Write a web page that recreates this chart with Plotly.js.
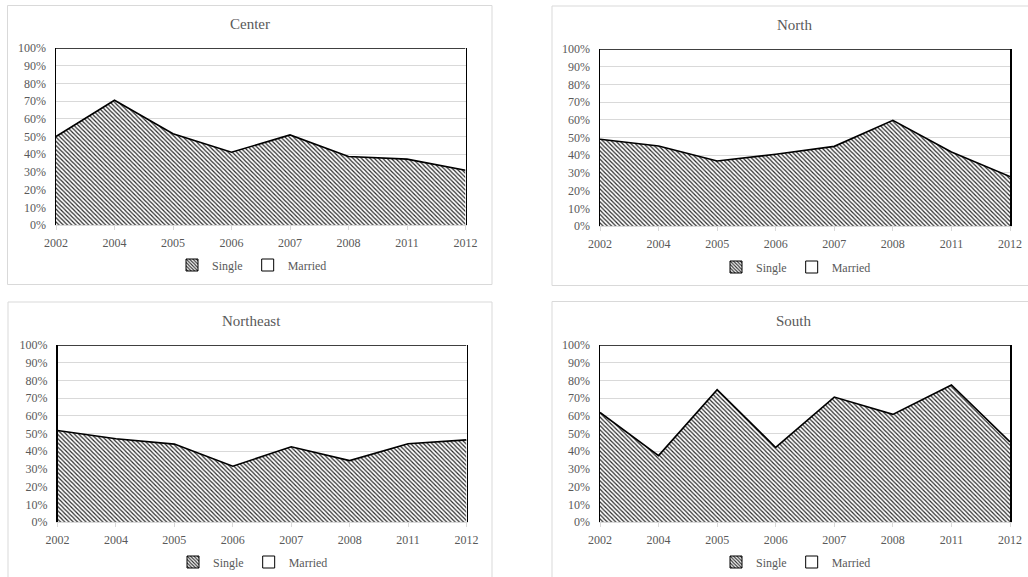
<!DOCTYPE html>
<html>
<head>
<meta charset="utf-8">
<script src="https://cdn.plot.ly/plotly-3.0.1.min.js"></script>
<style>
  html, body { margin: 0; padding: 0; background: #fff; }
  #chart { width: 1028px; height: 577px; }
</style>
</head>
<body>
<div id="chart"></div>
<script>
// Survey years (category axis)
const years = ['2002', '2004', '2005', '2006', '2007', '2008', '2011', '2012'];

// Share of respondents by marital status, per region (%)
const centerSingle    = [50.0, 70.5, 51.6, 41.1, 50.9, 38.7, 37.2, 30.9];
const centerMarried   = [50.0, 29.5, 48.4, 58.9, 49.1, 61.3, 62.8, 69.1];
const northSingle     = [49.0, 45.2, 36.7, 40.5, 45.0, 59.7, 41.8, 27.9];
const northMarried    = [51.0, 54.8, 63.3, 59.5, 55.0, 40.3, 58.2, 72.1];
const northeastSingle = [51.7, 47.0, 44.0, 31.5, 42.5, 34.7, 44.2, 46.4];
const northeastMarried= [48.3, 53.0, 56.0, 68.5, 57.5, 65.3, 55.8, 53.6];
const southSingle     = [61.9, 37.5, 74.7, 42.1, 70.6, 60.8, 77.4, 45.3];
const southMarried    = [38.1, 62.5, 25.3, 57.9, 29.4, 39.2, 22.6, 54.7];

const regionNames = ['Center', 'North', 'Northeast', 'South'];
const seriesNames = ['Single', 'Married'];
const yTicks = [0, 10, 20, 30, 40, 50, 60, 70, 80, 90, 100];

const W = 1028, H = 577;
const FONT = 'Liberation Serif, Times New Roman, serif';
const TEXT = '#595959';
const GRID = '#d9d9d9';

// Pixel geometry of each panel: plot area, outer frame, title and legend anchors
const panels = [
  { single: centerSingle,    married: centerMarried,    plot: [56, 465.5, 48, 225],    frame: [7.5, 492, 5.5, 284.5],  title: [249.5, 24], legend: [252, 265] },
  { single: northSingle,     married: northMarried,     plot: [600, 1010, 49, 226],    frame: [552, 1040, 6, 285.5],   title: [794, 25.5], legend: [796, 267] },
  { single: northeastSingle, married: northeastMarried, plot: [57.5, 466.5, 345, 522], frame: [8, 492, 302, 590],      title: [251, 321],  legend: [253, 562] },
  { single: southSingle,     married: southMarried,     plot: [600, 1010, 345, 522],   frame: [552, 1040, 301.5, 590], title: [794, 321],  legend: [796, 562] }
];

const hatch = { shape: '\\', size: 3, solidity: 0.4, fgcolor: '#2a2a2a', bgcolor: '#ffffff', fillmode: 'replace' };

const data = [];
const layout = {
  width: W, height: H,
  margin: { l: 0, r: 0, t: 0, b: 0 },
  paper_bgcolor: '#ffffff',
  plot_bgcolor: 'rgba(0,0,0,0)',
  font: { family: FONT, color: TEXT, size: 12 },
  shapes: [],
  annotations: [],
  showlegend: true
};

panels.forEach((p, i) => {
  const n = i === 0 ? '' : String(i + 1);
  const xa = 'x' + n, ya = 'y' + n;
  const topAxis = 'xaxis' + (i + 5);
  const lg = 'legend' + n;
  const stack = 'region' + i;

  data.push({
    type: 'scatter', mode: 'lines', x: years, y: p.single,
    xaxis: xa, yaxis: ya, stackgroup: stack,
    name: seriesNames[0], showlegend: false,
    line: { color: '#000000', width: 1.6 },
    fillcolor: '#ffffff', fillpattern: hatch,
    hoverinfo: 'skip'
  });
  data.push({
    type: 'scatter', mode: 'lines', x: years, y: p.married,
    xaxis: xa, yaxis: ya, stackgroup: stack,
    name: seriesNames[1], showlegend: false,
    line: { color: '#000000', width: 1.6 },
    fillcolor: 'rgba(255,255,255,0)',
    hoverinfo: 'skip'
  });
  // legend swatches (no drawn data)
  data.push({
    type: 'bar', x: [null], y: [null], xaxis: xa, yaxis: ya, name: seriesNames[0], legend: lg,
    showlegend: true,
    marker: { color: '#ffffff', line: { color: '#000000', width: 1 },
              pattern: { shape: '\\', size: 3, solidity: 0.45, fgcolor: '#2a2a2a', bgcolor: '#ffffff' } }
  });
  data.push({
    type: 'bar', x: [null], y: [null], xaxis: xa, yaxis: ya, name: seriesNames[1], legend: lg,
    showlegend: true,
    marker: { color: '#ffffff', line: { color: '#000000', width: 1 } }
  });

  const [x0, x1, yt, yb] = p.plot;
  layout['xaxis' + n] = {
    domain: [x0 / W, x1 / W],
    anchor: ya,
    type: 'category',
    range: [0, years.length - 1],
    showgrid: false, zeroline: false,
    showline: true, linecolor: GRID, linewidth: 1,
    ticks: 'outside', ticklen: 4, tickcolor: GRID,
    ticklabelstandoff: 3,
    tickfont: { family: FONT, size: 12, color: TEXT },
    fixedrange: true
  };
  // top border of the plot area
  layout[topAxis] = {
    overlaying: xa, anchor: ya, side: 'top',
    type: 'category', range: [0, years.length - 1],
    showgrid: false, zeroline: false, showticklabels: false, ticks: '',
    showline: true, linecolor: '#000000', linewidth: 1.6,
    fixedrange: true
  };
  layout['yaxis' + n] = {
    domain: [(H - yb) / H, (H - yt) / H],
    anchor: xa,
    range: [0, 100],
    tickvals: yTicks,
    ticktext: yTicks.map(v => v + '%'),
    showgrid: true, gridcolor: GRID, gridwidth: 1,
    zeroline: false,
    showline: true, mirror: true, linecolor: '#000000', linewidth: 1.5,
    ticks: '', ticklabelstandoff: 6,
    tickfont: { family: FONT, size: 12, color: TEXT },
    fixedrange: true
  };
  layout[lg] = {
    orientation: 'h',
    x: p.legend[0] / W, xanchor: 'center',
    y: (H - p.legend[1]) / H, yanchor: 'middle',
    font: { family: FONT, size: 12, color: TEXT },
    itemwidth: 30, itemclick: false, itemdoubleclick: false,
    bgcolor: 'rgba(0,0,0,0)', traceorder: 'normal'
  };

  const [fx0, fx1, fy0, fy1] = p.frame;
  layout.shapes.push({
    type: 'rect', xref: 'paper', yref: 'paper',
    x0: fx0 / W, x1: fx1 / W, y0: (H - fy1) / H, y1: (H - fy0) / H,
    line: { color: GRID, width: 1 }, fillcolor: 'rgba(0,0,0,0)', layer: 'below'
  });
  layout.annotations.push({
    xref: 'paper', yref: 'paper',
    x: p.title[0] / W, y: (H - p.title[1]) / H,
    xanchor: 'center', yanchor: 'middle', showarrow: false,
    text: regionNames[i],
    font: { family: FONT, size: 15, color: TEXT }
  });
});

Plotly.newPlot('chart', data, layout, { displayModeBar: false, staticPlot: true });
</script>
</body>
</html>
